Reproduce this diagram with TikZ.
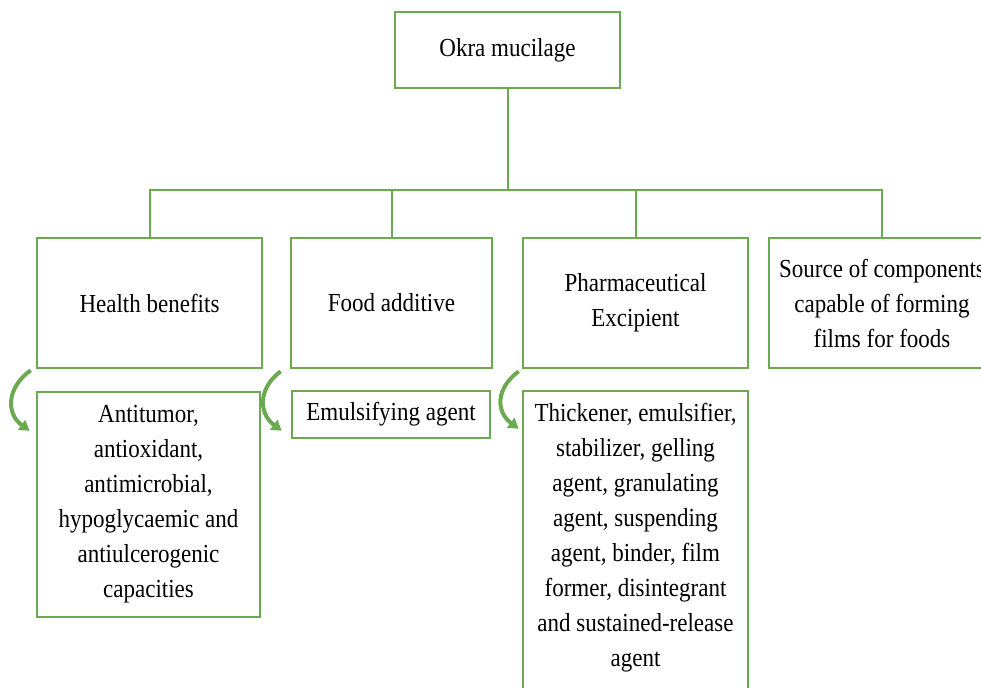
\documentclass[tikz,border=0pt]{standalone}
\usepackage{fontspec}
\setmainfont{Liberation Serif}[FakeStretch=0.885]
\usetikzlibrary{arrows.meta,calc}
\definecolor{okG}{HTML}{6CAA52}
\tikzset{
  okbox/.style={draw=okG,line width=1.3pt,align=center,inner sep=2pt,
    font=\fontsize{13}{17.5}\selectfont},
  branch/.style={draw=okG,line width=1pt},
  curlarrow/.style={-{Triangle[length=5pt,width=6pt]},draw=okG,line width=2pt},
}

\begin{document}
\begin{tikzpicture}[x=0.5pt,y=-0.5pt]
\useasboundingbox (0,0) rectangle (981,687);
\clip (0,0) rectangle (981,687);
\node[okbox,minimum width=112.5pt,minimum height=38pt] (okra) at (507.5,50) {Okra mucilage};
\node[okbox,minimum width=112.5pt,minimum height=65pt] (hb) at (149.5,303) {Health benefits};
\node[okbox,minimum width=100.5pt,minimum height=65pt] (fa) at (391.5,303) {Food additive};
\node[okbox,minimum width=112.5pt,minimum height=65pt] (pe) at (635.5,303) {Pharmaceutical\\Excipient};
\node[okbox,minimum width=113pt,minimum height=65pt] (sc) at (882,303) {Source of components\\capable of forming\\films for foods};
\node[okbox,minimum width=111.5pt,minimum height=112.5pt] (at) at (148.5,504.5)
  {Antitumor,\\antioxidant,\\antimicrobial,\\hypoglycaemic and\\antiulcerogenic\\capacities};
\node[okbox,minimum width=99pt,minimum height=23.5pt] (ea) at (391,414.5) {Emulsifying agent};
\node[okbox,minimum width=112.5pt,minimum height=154.5pt,text depth=10.5pt] (te) at (635.5,545.5)
  {Thickener, emulsifier,\\stabilizer, gelling\\agent, granulating\\agent, suspending\\agent, binder, film\\former, disintegrant\\and sustained-release\\agent};
\coordinate (bar) at (507.5,190);
\draw[branch] (okra.south) -- (bar);
\foreach \n in {hb,fa,pe,sc}
  \draw[branch] (\n.north) |- (bar);
\draw[curlarrow] ($(hb.south west)+(-5,1)$) .. controls +(-24,17) and +(-24,-17) .. ($(at.north west)+(-6,40)$);
\draw[curlarrow] ($(fa.south west)+(-9,2)$) .. controls +(-23,17) and +(-23,-17) .. ($(ea.north west)+(-9,41)$);
\draw[curlarrow] ($(pe.south west)+(-3,2)$) .. controls +(-23,17) and +(-23,-17) .. ($(te.north west)+(-3,39)$);
\end{tikzpicture}
\end{document}
